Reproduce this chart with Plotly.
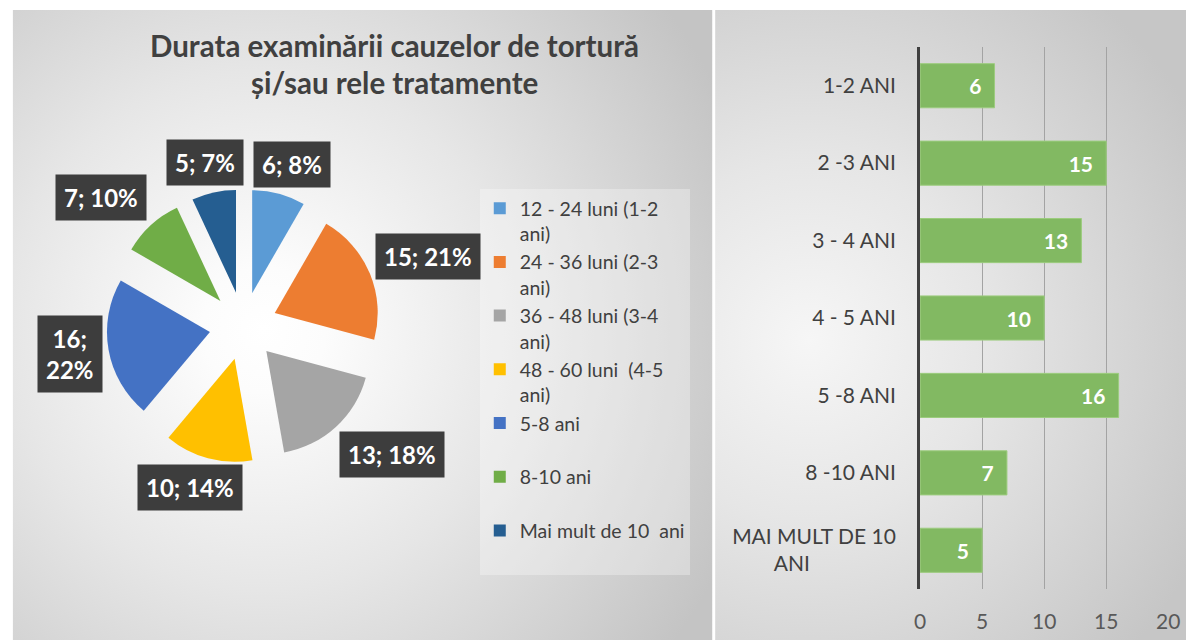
import base64
import math
import plotly.graph_objects as go

# ---------------- data ----------------
pie_labels = [
    "12 - 24 luni (1-2<br>ani)",
    "24 - 36 luni (2-3<br>ani)",
    "36 - 48 luni (3-4<br>ani)",
    "48 - 60 luni\u00a0 (4-5<br>ani)",
    "5-8 ani<br>\u00a0",
    "8-10 ani<br>\u00a0",
    "Mai mult de 10\u00a0 ani<br>\u00a0",
]
pie_values = [6, 15, 13, 10, 16, 7, 5]
pie_colors = ["#5B9BD5", "#ED7D31", "#A5A5A5", "#FFC000", "#4472C4", "#70AD47", "#255E91"]
pie_label_wrap = [False, False, False, False, True, False, False]

bar_categories = ["1-2 ANI", "2 -3 ANI", "3 - 4 ANI", "4 - 5 ANI", "5 -8 ANI", "8 -10 ANI",
                  "MAI MULT DE 10<br>ANI" + "\u00a0" * 16]
bar_values = [6, 15, 13, 10, 16, 7, 5]
x_ticks = [0, 5, 10, 15, 20]

title_lines = ["Durata examinării cauzelor de tortură", "și/sau rele tratamente"]

# ---------------- layout constants ----------------
W, H = 1198, 640
FONT = "Lato"

# pie geometry (pixels)
pie_cx, pie_cy = 241, 326
pie_pull = 0.33
pie_half = 139.0
pie_r = pie_half / (1 + pie_pull)

# background (radial gradients) as svg
svg = f'''<svg xmlns="http://www.w3.org/2000/svg" width="{W}" height="{H}" viewBox="0 0 {W} {H}">
<defs>
<radialGradient id="gl" gradientUnits="userSpaceOnUse" cx="262" cy="330" r="520">
<stop offset="0" stop-color="#ffffff"/>
<stop offset="0.12" stop-color="#fcfcfc"/>
<stop offset="0.5" stop-color="#e6e6e6"/>
<stop offset="1" stop-color="#c4c4c4"/>
</radialGradient>
<radialGradient id="gr" gradientUnits="userSpaceOnUse" cx="815" cy="340" r="450">
<stop offset="0" stop-color="#f6f6f6"/>
<stop offset="0.4" stop-color="#e6e6e6"/>
<stop offset="1" stop-color="#c6c6c6"/>
</radialGradient>
</defs>
<rect width="{W}" height="{H}" fill="#ffffff"/>
<rect x="7" y="10" width="710" height="630" fill="url(#gl)"/>
<rect x="720" y="10" width="478" height="630" fill="url(#gr)"/>
</svg>'''
bg_src = "data:image/svg+xml;base64," + base64.b64encode(svg.encode("utf-8")).decode("ascii")

fig = go.Figure()

fig.add_trace(go.Pie(
    labels=pie_labels,
    values=pie_values,
    marker=dict(colors=pie_colors, line=dict(width=0)),
    sort=False,
    direction="clockwise",
    rotation=0,
    pull=[pie_pull] * len(pie_values),
    textinfo="none",
    hoverinfo="label+value+percent",
    domain=dict(x=[(pie_cx - pie_half) / W, (pie_cx + pie_half) / W],
                y=[1 - (pie_cy + pie_half) / H, 1 - (pie_cy - pie_half) / H]),
    showlegend=True,
))

fig.add_trace(go.Bar(
    x=bar_values,
    y=bar_categories,
    orientation="h",
    marker=dict(color="#82B962", line=dict(color="#9ccc7e", width=1)),
    texttemplate="%{x}\u00a0\u00a0",
    textposition="inside",
    insidetextanchor="end",
    textfont=dict(family=FONT, size=21, color="white", weight="bold"),
    showlegend=False,
    hoverinfo="x+y",
))


# ---------------- pie data labels (computed from slice angles) ----------------
def side(u):
    a = min(max((abs(u) - 0.15) / 0.35, 0.0), 1.0)
    return a if u >= 0 else -a


annotations = []
total = sum(pie_values)
cum = 0
Ra = pie_r * (1 + pie_pull) + 7
for v, wrap in zip(pie_values, pie_label_wrap):
    pct = round(v / total * 100)
    theta = math.radians((cum + v / 2) / total * 360)
    cum += v
    if wrap:
        txt = f"{v};<br>{pct}%"
        hw, hh = 32, 38
    else:
        txt = f"{v}; {pct}%"
        hw, hh = (13.5 * len(txt) + 10) / 2, 20.5
    dx, dy = math.sin(theta), -math.cos(theta)
    px = pie_cx + dx * Ra + hw * side(dx)
    py = pie_cy + dy * Ra + hh * side(dy)
    annotations.append(dict(
        x=px / W, y=1 - py / H, xref="paper", yref="paper",
        xanchor="center", yanchor="middle", showarrow=False,
        text=txt, align="center",
        font=dict(family=FONT, size=24, weight="bold", color="white"),
        bgcolor="#3d3d3d",
        borderpad=8,
    ))

for i, line in enumerate(title_lines):
    annotations.append(dict(
        x=394 / W, y=1 - (45 + 38 * i) / H, xref="paper", yref="paper",
        xanchor="center", yanchor="middle", showarrow=False, text=line,
        font=dict(family=FONT, size=29.5, weight="bold", color="#404040"),
    ))

fig.update_layout(
    width=W, height=H,
    margin=dict(l=0, r=0, t=0, b=0),
    paper_bgcolor="white",
    plot_bgcolor="rgba(0,0,0,0)",
    font=dict(family=FONT, color="#404040"),
    images=[dict(source=bg_src, xref="paper", yref="paper", x=0, y=1,
                 sizex=1, sizey=1, xanchor="left", yanchor="top",
                 sizing="stretch", layer="below")],
    annotations=annotations,
    legend=dict(
        x=481 / W, y=1 - 189 / H, xanchor="left", yanchor="top",
        font=dict(family=FONT, size=19.5, color="#404040"),
        bgcolor="rgba(255,255,255,0.3)",
        valign="top",
        traceorder="normal",
    ),
    bargap=0.43,
    xaxis=dict(
        domain=[928 / W, 1180 / W], range=[0, 20], tickvals=x_ticks,
        showgrid=True, gridcolor="#a3a3a3", gridwidth=1, zeroline=False,
        showline=False, tickfont=dict(family=FONT, size=21, color="#595959"),
        ticklabelstandoff=18, fixedrange=True,
    ),
    yaxis=dict(
        domain=[1 - 589 / H, 1 - 47 / H], autorange="reversed",
        showgrid=False, zeroline=False, showline=True, linecolor="#404040",
        linewidth=3, tickfont=dict(family=FONT, size=21, color="#404040"),
        ticklabelstandoff=17, fixedrange=True,
    ),
)

page_fix = (
    "document.documentElement.style.margin='0';"
    "document.documentElement.style.padding='0';"
    "document.documentElement.style.overflow='hidden';"
    "document.body.style.margin='0';"
    "document.body.style.padding='0';"
    "document.body.style.overflow='hidden';"
)
fig.write_html("out.html", config={"displayModeBar": False}, post_script=page_fix)
